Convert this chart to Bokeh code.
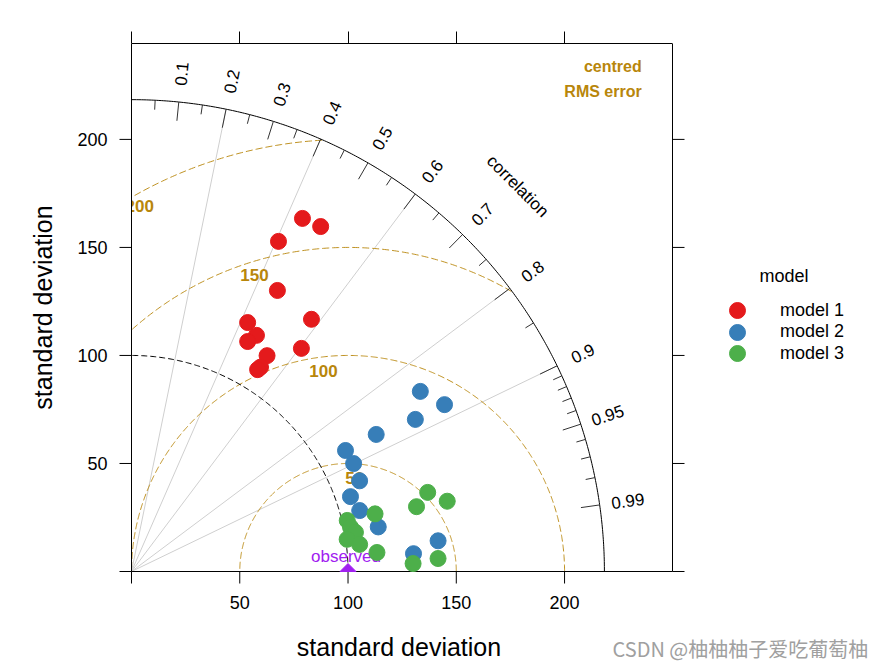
import numpy as np
from bokeh.plotting import figure
from bokeh.models import Range1d, LinearAxis, FixedTicker, Legend, LegendItem, Label
from bokeh.core.properties import value
from bokeh.embed import file_html
from bokeh.resources import INLINE

# ---------------- data ----------------
models = ["model 1", "model 2", "model 3"]
colors = ["#E41A1C", "#377EB8", "#4DAF4A"]

sd_m1 = [181.5, 182.0, 167.2, 146.5, 143.3, 127.1, 123.6, 119.2, 129.7, 117.9, 111.8, 110.1]
r_m1 = [0.435, 0.480, 0.406, 0.460, 0.580, 0.422, 0.467, 0.450, 0.605, 0.531, 0.533, 0.529]

sd_m2 = [157.3, 163.9, 148.8, 129.6, 113.6, 114.1, 113.4, 106.9, 109.1, 115.8, 142.3, 130.5]
r_m2 = [0.848, 0.882, 0.881, 0.872, 0.870, 0.899, 0.929, 0.946, 0.966, 0.984, 0.995, 0.998]

sd_m3 = [141.6, 149.4, 135.0, 115.6, 102.4, 103.2, 105.0, 100.7, 106.1, 113.7, 141.7, 130.1]
r_m3 = [0.966, 0.976, 0.975, 0.973, 0.973, 0.980, 0.985, 0.989, 0.993, 0.997, 0.9991, 0.9996]

obs_sd = 100.0
sd_ticks = [0, 50, 100, 150, 200]
rms_values = [0, 50, 100, 150, 200]
corr_major = [0.1, 0.2, 0.3, 0.4, 0.5, 0.6, 0.7, 0.8, 0.9, 0.95, 0.99]
corr_minor = [0.05, 0.15, 0.25, 0.35, 0.45, 0.55, 0.65, 0.75, 0.85,
              0.91, 0.92, 0.93, 0.94, 0.96, 0.97, 0.98]
corr_lines = [0.2, 0.4, 0.6, 0.8, 0.9]

# ---------------- layout / styles ----------------
FONT = "Liberation Sans"
GOLD = "#B8860B"
PURPLE = "#A020F0"
W, H = 876, 668
LEFT, TOP = 131, 43          # panel box position in pixels
BOX_W, BOX_H = 541, 528      # panel box size in pixels
TICK = 12                    # tick length in pixels
LEG_X, LEG_Y0, LEG_DY = 737, 310, 21.5   # legend key centres (pixels)

all_sd = sd_m1 + sd_m2 + sd_m3
maxsd = 1.2 * max(all_sd)
x_box = 1.1 * maxsd * 1.04
y_box = 1.119 * maxsd
kx = BOX_W / x_box
ky = BOX_H / y_box
x0_rng = -LEFT / kx
y0_rng = y_box - (H - TOP) / ky

p = figure(width=W, height=H,
           x_range=Range1d(x0_rng, (W - LEFT) / kx),
           y_range=Range1d(y0_rng, y_box),
           output_backend="svg", toolbar_location=None,
           min_border_left=0, min_border_right=0,
           min_border_top=TOP, min_border_bottom=0,
           x_axis_location=None, y_axis_location=None)
p.grid.visible = False
p.outline_line_color = None
p.background_fill_color = "white"
p.border_fill_color = "white"

# top axis (ticks only) on the box's upper edge
top_ax = LinearAxis(bounds=(0, x_box), ticker=FixedTicker(ticks=sd_ticks),
                    major_tick_out=TICK, major_tick_in=0,
                    minor_tick_out=0, minor_tick_in=0,
                    major_tick_line_color="black", axis_line_color="black",
                    major_label_overrides={t: "" for t in sd_ticks},
                    major_label_standoff=0, major_label_text_font_size="10px")
p.add_layout(top_ax, "above")

# radial correlation lines
theta_l = np.arccos(np.array(corr_lines))
p.multi_line(xs=[[0, maxsd * np.cos(t)] for t in theta_l],
             ys=[[0, maxsd * np.sin(t)] for t in theta_l],
             line_color="#CFCFCF", line_width=1)

# rms circles around observed
th = np.linspace(0, np.pi, 600)
for g in rms_values[1:]:
    xc = obs_sd + g * np.cos(th)
    yc = g * np.sin(th)
    mask = (xc >= 0) & (yc >= 0) & (xc ** 2 + yc ** 2 <= maxsd ** 2)
    xc = np.where(mask, xc, np.nan)
    yc = np.where(mask, yc, np.nan)
    p.line(xc, yc, line_color=GOLD, line_dash="7 3", line_width=1, line_alpha=0.9)

# reference sd arc
tq = np.linspace(0, np.pi / 2, 300)
p.line(obs_sd * np.cos(tq), obs_sd * np.sin(tq), line_color="black",
       line_dash="6 3", line_width=1)

# outer arc
p.line(maxsd * np.cos(tq), maxsd * np.sin(tq), line_color="black", line_width=1)

# correlation ticks
tM = np.arccos(np.array(corr_major))
tm = np.arccos(np.array(corr_minor))
p.segment(x0=maxsd * np.cos(tM), y0=maxsd * np.sin(tM),
          x1=0.96 * maxsd * np.cos(tM), y1=0.96 * maxsd * np.sin(tM),
          line_color="#333333", line_width=1)
p.segment(x0=maxsd * np.cos(tm), y0=maxsd * np.sin(tm),
          x1=0.98 * maxsd * np.cos(tm), y1=0.98 * maxsd * np.sin(tm),
          line_color="#333333", line_width=1)

# correlation labels
p.text(x=1.06 * maxsd * np.cos(tM), y=1.06 * maxsd * np.sin(tM),
       text=[f"{c:g}" for c in corr_major], angle=tM,
       text_align="center", text_baseline="middle",
       text_font=value(FONT), text_font_size="17px", text_color="black")
p.text(x=[1.155 * maxsd * np.cos(np.pi / 4)], y=[1.155 * maxsd * np.sin(np.pi / 4)],
       text=["correlation"], angle=-np.pi / 4,
       text_align="center", text_baseline="middle",
       text_font=value(FONT), text_font_size="17px", text_color="black")

# rms labels (positions along the arcs)
idx = np.floor(np.linspace(45, 70, len(rms_values))).astype(int)
lab_ang = (idx - 1) * 0.03
gam = np.array(rms_values, dtype=float)
lx = obs_sd + gam * np.cos(lab_ang)
ly = gam * np.sin(lab_ang)
keep = gam > 0
p.text(x=lx[keep], y=ly[keep], text=[str(int(g)) for g in gam[keep]],
       text_align="center", text_baseline="top", y_offset=8, x_offset=-1,
       text_font=value(FONT), text_font_size="17px", text_font_style="bold",
       text_color=GOLD)

# white band left of the box: hides what falls outside the panel
p.quad(left=[x0_rng], right=[0], bottom=[y0_rng], top=[y_box],
       fill_color="white", line_color=None)

p.text(x=[1.1 * maxsd], y=[1.05 * maxsd], text=["centred"], x_offset=-10, y_offset=-10,
       text_align="right", text_baseline="middle",
       text_font=value(FONT), text_font_size="16px", text_font_style="bold",
       text_color=GOLD)
p.text(x=[1.1 * maxsd], y=[1.05 * maxsd], text=["RMS error"], x_offset=-10, y_offset=15,
       text_align="right", text_baseline="middle",
       text_font=value(FONT), text_font_size="16px", text_font_style="bold",
       text_color=GOLD)

# box sides (left, bottom, right) with ticks and labels
p.line([0, 0, x_box, x_box], [y_box, 0, 0, y_box], line_color="black", line_width=1)
n = len(sd_ticks)
p.segment(x0=sd_ticks, y0=[0] * n, x1=sd_ticks, y1=[-TICK / ky] * n,
          line_color="black", line_width=1)
p.segment(x0=[x_box] * n, y0=sd_ticks, x1=[x_box + TICK / kx] * n, y1=sd_ticks,
          line_color="black", line_width=1)
p.segment(x0=[0] * n, y0=sd_ticks, x1=[-TICK / kx] * n, y1=sd_ticks,
          line_color="black", line_width=1)
p.text(x=sd_ticks[1:], y=[0] * (n - 1), text=[str(t) for t in sd_ticks[1:]],
       y_offset=24, text_align="center", text_baseline="top",
       text_font=value(FONT), text_font_size="18px", text_color="black")
p.text(x=[0] * (n - 1), y=sd_ticks[1:], text=[str(t) for t in sd_ticks[1:]],
       x_offset=-24, text_align="right", text_baseline="middle",
       text_font=value(FONT), text_font_size="18px", text_color="black")
# axis titles
p.text(x=[x_box / 2 - 3 / kx], y=[0], text=["standard deviation"], y_offset=75,
       text_align="center", text_baseline="middle",
       text_font=value(FONT), text_font_size="25px", text_color="black")
p.text(x=[0], y=[y_box / 2], text=["standard deviation"], x_offset=-89, angle=np.pi / 2,
       text_align="center", text_baseline="middle",
       text_font=value(FONT), text_font_size="25px", text_color="black")

# observed (marker half hidden below the axis, as in the panel)
p.text(x=[obs_sd], y=[0], text=["observed"], y_offset=-6, x_offset=-2,
       text_align="center", text_baseline="bottom",
       text_font=value(FONT), text_font_size="17px", text_color=PURPLE)
half = 8
p.patch(x=[obs_sd - half / kx, obs_sd, obs_sd + half / kx],
        y=[0, half / ky, 0], fill_color=PURPLE, line_color=PURPLE)

# model points
renderers = []
for sd, rr, col in zip([sd_m1, sd_m2, sd_m3], [r_m1, r_m2, r_m3], colors):
    sd = np.array(sd)
    rr = np.array(rr)
    r = p.scatter(x=sd * rr, y=sd * np.sqrt(1 - rr ** 2), marker="circle",
                  size=16, fill_color=col, line_color=col)
    renderers.append(r)

# legend: one key per legend box so the keys can sit close together
for i, (m, r) in enumerate(zip(models, renderers)):
    cy = LEG_Y0 + i * LEG_DY
    leg = Legend(items=[LegendItem(label=m, renderers=[r])],
                 location=(LEG_X - 20, H - (cy + 20)),
                 glyph_width=40, glyph_height=40, spacing=0,
                 label_standoff=23, padding=0, margin=0,
                 border_line_color=None, background_fill_alpha=0,
                 label_text_font=FONT, label_text_font_size="18px",
                 label_text_color="black")
    p.add_layout(leg)

p.add_layout(Label(x=759, y=H - 275, x_units="screen", y_units="screen", text="model",
                   text_baseline="middle", text_font=FONT, text_font_size="18px",
                   text_color="black"))
p.add_layout(Label(x=612, y=H - 648, x_units="screen", y_units="screen",
                   text="CSDN @柚柚柚子爱吃葡萄柚", text_baseline="middle",
                   text_font="Noto Sans CJK SC", text_font_size="20px",
                   text_color="#A0A0A0"))

open("out.html", "w").write(file_html(p, INLINE))
